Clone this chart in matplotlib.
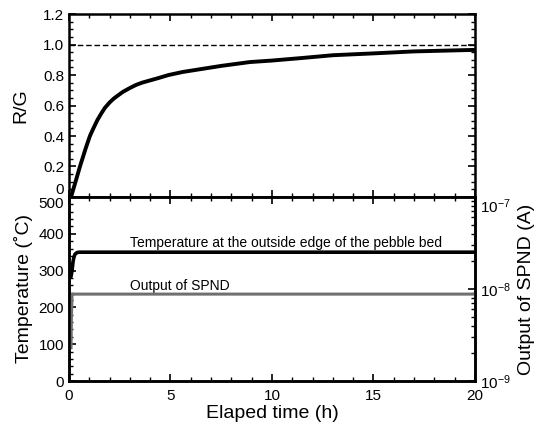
import matplotlib
matplotlib.use("Agg")
import matplotlib.pyplot as plt
from matplotlib.ticker import MultipleLocator, LogLocator, NullFormatter, FixedLocator, FixedFormatter

plt.rcParams['font.family'] = ['Liberation Sans', 'DejaVu Sans']
plt.rcParams['mathtext.fontset'] = 'custom'
plt.rcParams['mathtext.rm'] = 'Liberation Sans'

# R/G ratio vs elapsed time
rg_time = [0.1, 0.2, 0.3, 0.42, 0.54, 0.67, 0.8, 0.9, 1.03, 1.2, 1.4, 1.6, 1.77, 2.0, 2.2, 2.4,
           2.66, 3.0, 3.3, 3.6, 4.0, 4.4, 4.9, 5.6, 6.45, 7.5, 8.9, 10, 11.5, 13, 15, 17, 18.5, 20]
rg_vals = [0.0, 0.045, 0.09, 0.145, 0.2, 0.255, 0.31, 0.35, 0.4, 0.45, 0.505, 0.55, 0.585, 0.62,
           0.645, 0.665, 0.69, 0.715, 0.735, 0.75, 0.765, 0.78, 0.8, 0.82, 0.838, 0.86, 0.885,
           0.895, 0.912, 0.93, 0.942, 0.955, 0.96, 0.965]
rg_ref = 1.0

# Temperature at the outside edge of the pebble bed
temp_time = [0.05, 0.1, 0.15, 0.2, 0.25, 0.3, 0.4, 0.5, 1, 5, 10, 15, 20]
temp_vals = [292, 284, 300, 325, 338, 345, 349, 350, 350, 350, 350, 350, 350]

# Output of SPND (A)
spnd_time = [0.1, 0.12, 0.15, 0.2, 1, 5, 10, 15, 20]
spnd_vals = [2.3e-9, 5e-9, 8.8e-9, 8.8e-9, 8.8e-9, 8.8e-9, 8.8e-9, 8.8e-9, 8.8e-9]

fig = plt.figure(figsize=(5.37, 4.26), dpi=100)
L, R = 0.1285, 0.8845
ax1 = fig.add_axes([L, 0.5376, R - L, 0.967 - 0.5376])
ax2 = fig.add_axes([L, 0.1056, R - L, 0.5376 - 0.1056])

for ax in (ax1, ax2):
    for s in ax.spines.values():
        s.set_linewidth(1.8)
    ax.set_xlim(0, 20)
    ax.xaxis.set_major_locator(MultipleLocator(5))
    ax.xaxis.set_minor_locator(MultipleLocator(1))
    ax.tick_params(which='both', direction='in', top=True, labelsize=11)
    ax.tick_params(which='major', length=5, width=1.2)
    ax.tick_params(which='minor', length=3, width=1)
    ax.tick_params(axis='x', pad=6)

# top panel
ax1.plot(rg_time, rg_vals, color='black', lw=2.8, solid_capstyle='butt')
ax1.axhline(rg_ref, color='black', lw=1, ls=(0, (4, 2)))
ax1.set_ylim(0, 1.2)
ax1.yaxis.set_major_locator(FixedLocator([0, 0.2, 0.4, 0.6, 0.8, 1.0, 1.2]))
ax1.yaxis.set_major_formatter(FixedFormatter(['0', '0.2', '0.4', '0.6', '0.8', '1.0', '1.2']))
ax1.yaxis.set_minor_locator(MultipleLocator(0.05))
ax1.tick_params(which='both', right=True)
ax1.tick_params(axis='x', labelbottom=False)
ax1.set_ylabel('R/G', fontsize=14, labelpad=10)

# bottom panel
ax2.plot(temp_time, temp_vals, color='black', lw=2.6)
ax2.set_ylim(0, 500)
ax2.yaxis.set_major_locator(MultipleLocator(100))
ax2.yaxis.set_minor_locator(MultipleLocator(20))
ax2.set_ylabel('Temperature (˚C)', fontsize=14, labelpad=4)
ax2.set_xlabel('Elaped time (h)', fontsize=14, labelpad=1)
ax2.set_xticks([0, 5, 10, 15, 20])
ax2.set_xticklabels(['0', '5', '10', '15', '20'])

ax2r = ax2.twinx()
ax2r.set_yscale('log')
ax2r.set_ylim(1e-9, 1e-7)
ax2r.plot(spnd_time, spnd_vals, color='#707070', lw=2.2)
ax2r.xaxis.set_visible(False)
ax2r.yaxis.set_major_locator(LogLocator(base=10, numticks=5))
ax2r.yaxis.set_minor_locator(LogLocator(base=10, subs=range(2, 10), numticks=20))
ax2r.yaxis.set_minor_formatter(NullFormatter())
ax2r.tick_params(which='both', direction='in', labelsize=11)
ax2r.tick_params(which='major', length=5, width=1.2)
ax2r.tick_params(which='minor', length=3, width=1)
ax2r.set_ylabel('Output of SPND (A)', fontsize=14, labelpad=5)
for s in ax2r.spines.values():
    s.set_linewidth(1.8)

ax2.text(3.0, 374, 'Temperature at the outside edge of the pebble bed', fontsize=10, va='center')
ax2.text(3.0, 258, 'Output of SPND', fontsize=10, va='center')

fig.canvas.draw()
for lab in ax1.get_yticklabels():
    if lab.get_text() == '0':
        lab.set_va('bottom')
for lab in ax2.get_yticklabels():
    if lab.get_text() == '500':
        lab.set_va('top')
labs = ax2r.get_yticklabels()
for lab in labs:
    if '-7' in lab.get_text():
        lab.set_va('top')

fig.savefig('out.png', dpi=100)
